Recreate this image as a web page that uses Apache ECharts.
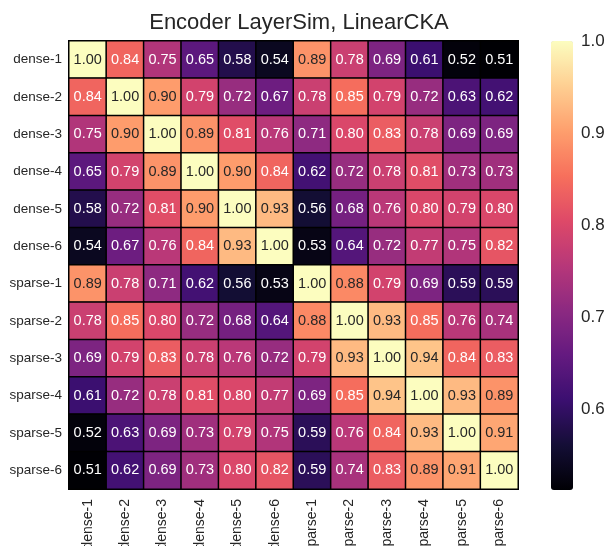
<!DOCTYPE html>
<html><head><meta charset="utf-8">
<script src="https://cdn.jsdelivr.net/npm/echarts@6/dist/echarts.min.js"></script>
<style>html,body{margin:0;padding:0;background:#fff}#c{width:608px;height:546px}</style>
</head><body><div id="c"></div>
<script>
var categories = ['dense-1','dense-2','dense-3','dense-4','dense-5','dense-6','sparse-1','sparse-2','sparse-3','sparse-4','sparse-5','sparse-6'];
var values = [
 [1.00,0.84,0.75,0.65,0.58,0.54,0.89,0.78,0.69,0.61,0.52,0.51],
 [0.84,1.00,0.90,0.79,0.72,0.67,0.78,0.85,0.79,0.72,0.63,0.62],
 [0.75,0.90,1.00,0.89,0.81,0.76,0.71,0.80,0.83,0.78,0.69,0.69],
 [0.65,0.79,0.89,1.00,0.90,0.84,0.62,0.72,0.78,0.81,0.73,0.73],
 [0.58,0.72,0.81,0.90,1.00,0.93,0.56,0.68,0.76,0.80,0.79,0.80],
 [0.54,0.67,0.76,0.84,0.93,1.00,0.53,0.64,0.72,0.77,0.75,0.82],
 [0.89,0.78,0.71,0.62,0.56,0.53,1.00,0.88,0.79,0.69,0.59,0.59],
 [0.78,0.85,0.80,0.72,0.68,0.64,0.88,1.00,0.93,0.85,0.76,0.74],
 [0.69,0.79,0.83,0.78,0.76,0.72,0.79,0.93,1.00,0.94,0.84,0.83],
 [0.61,0.72,0.78,0.81,0.80,0.77,0.69,0.85,0.94,1.00,0.93,0.89],
 [0.52,0.63,0.69,0.73,0.79,0.75,0.59,0.76,0.84,0.93,1.00,0.91],
 [0.51,0.62,0.69,0.73,0.80,0.82,0.59,0.74,0.83,0.89,0.91,1.00]
];
var colorbarTicks = [0.6,0.7,0.8,0.9,1.0];
var colorMin = 0.513, colorMax = 1.0;
var magma = ['#000004','#140e36','#3b0f70','#641a80','#8c2981','#b73779','#de4968','#f7705c','#fe9f6d','#fecf92','#fcfdbf'];

var FONT = 'Liberation Sans';
var data = [];
for (var r = 0; r < values.length; r++) {
  for (var c = 0; c < values[r].length; c++) {
    var v = values[r][c];
    data.push({value:[c, r, v], label:{color: v >= 0.87 ? '#262626' : '#ffffff'}});
  }
}
var chart = echarts.init(document.getElementById('c'), null, {renderer:'canvas'});
chart.setOption({
  animation:false,
  textStyle:{fontFamily:FONT},
  title:{text:'Encoder LayerSim, LinearCKA', left:294, textAlign:'center', top:7,
    textStyle:{fontFamily:FONT, fontSize:22, fontWeight:'normal', color:'#262626'}},
  grid:[{left:69, top:41, width:449, height:448, outerBoundsMode:'none', containLabel:false},
        {left:551, top:41, width:22, height:449, show:false, outerBoundsMode:'none', containLabel:false}],
  xAxis:[{type:'category', data:categories, gridIndex:0,
     axisLine:{show:false}, axisTick:{show:false}, splitLine:{show:false},
     axisLabel:{rotate:90, margin:10, fontSize:14, color:'#262626', fontFamily:FONT, interval:0}},
    {type:'value', gridIndex:1, show:false, min:0, max:1}],
  yAxis:[{type:'category', data:categories, inverse:true, gridIndex:0,
     axisLine:{show:false}, axisTick:{show:false}, splitLine:{show:false},
     axisLabel:{margin:7, fontSize:13.5, color:'#262626', fontFamily:FONT, interval:0}},
    {type:'value', gridIndex:1, min:colorMin, max:colorMax, position:'right',
     axisLine:{show:false}, axisTick:{show:false}, splitLine:{show:false},
     axisLabel:{customValues:colorbarTicks, margin:8, fontSize:17, color:'#262626', fontFamily:FONT,
       formatter:function(v){return v.toFixed(1);}}}],
  visualMap:{type:'continuous', seriesIndex:0, dimension:2, min:colorMin, max:colorMax,
    calculable:false, left:551, top:41, itemWidth:22, itemHeight:449, padding:0,
    orient:'vertical', inRange:{color:magma}, text:null, showLabel:false, hoverLink:false},
  series:[{type:'heatmap', xAxisIndex:0, yAxisIndex:0, data:data,
    itemStyle:{borderColor:'#000', borderWidth:1.5},
    label:{show:true, fontSize:14.5, fontFamily:FONT, formatter:function(p){return p.value[2].toFixed(2);}},
    emphasis:{disabled:true}}]
});
</script></body></html>
